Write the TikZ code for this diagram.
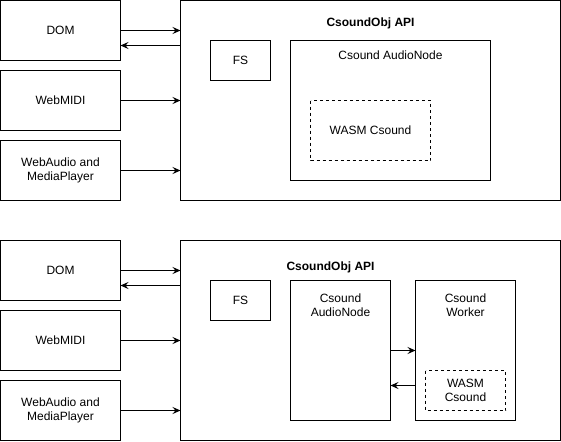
\documentclass[tikz,border=0pt]{standalone}
\usepackage{fontspec}
\setmainfont{Liberation Sans}
\usetikzlibrary{arrows.meta}
\begin{document}
\begin{tikzpicture}[x=1pt,y=-1pt,
  box/.style={draw=black,line width=1pt,fill=white},
  dbox/.style={draw=black,line width=1pt,dashed,dash pattern=on 3pt off 3pt},
  lbl/.style={font=\fontsize{12}{14}\selectfont,align=center},
  conn/.style={line width=1pt,-{Stealth[length=8pt,width=7pt,inset=3pt]}}]
\useasboundingbox (0,0) rectangle (561,441);
\fill[white] (0,0) rectangle (561,441);
% ---------- top diagram ----------
\draw[box] (0.5,0.5) rectangle (120.5,60.5);
\node[lbl] (dom1) at (60.5,30.5) {DOM};
\coordinate (dom1a) at (120.5,30.5);
\coordinate (dom1b) at (120.5,45.5);
\draw[box] (0.5,70.5) rectangle (120.5,130.5);
\node[lbl] (midi1) at (60.5,100.5) {WebMIDI};
\coordinate (midi1e) at (120.5,100.5);
\draw[box] (0.5,140.5) rectangle (120.5,200.5);
\node[lbl] (wa1) at (60.5,170.5) {WebAudio and\\MediaPlayer};
\coordinate (wa1e) at (120.5,170.5);
\draw[box] (180.5,0.5) rectangle (560.5,200.5);
\node[lbl,font=\fontsize{12}{14}\selectfont\bfseries] (api1) at (370.5,23.5) {CsoundObj API};
\coordinate (api1a) at (180.5,30.5);
\coordinate (api1b) at (180.5,45.5);
\coordinate (api1m) at (180.5,100.5);
\coordinate (api1w) at (180.5,170.5);
\draw[box] (210.5,40.5) rectangle (270.5,80.5);
\node[lbl] (fs1) at (240.5,60.5) {FS};
\draw[box] (290.5,40.5) rectangle (490.5,180.5);
\node[lbl] (an1) at (390.5,55) {Csound AudioNode};
\draw[dbox] (310.5,100.5) rectangle (430.5,160.5);
\node[lbl] (wasm1) at (370.5,130.5) {WASM Csound};
\draw[conn] (dom1a) -- (api1a);
\draw[conn] (api1b) -- (dom1b);
\draw[conn] (midi1e) -- (api1m);
\draw[conn] (wa1e) -- (api1w);
% ---------- bottom diagram ----------
\draw[box] (0.5,240.5) rectangle (120.5,300.5);
\node[lbl] (dom2) at (60.5,270.5) {DOM};
\coordinate (dom2a) at (120.5,270.5);
\coordinate (dom2b) at (120.5,285.5);
\draw[box] (0.5,310.5) rectangle (120.5,370.5);
\node[lbl] (midi2) at (60.5,340.5) {WebMIDI};
\coordinate (midi2e) at (120.5,340.5);
\draw[box] (0.5,380.5) rectangle (120.5,440.5);
\node[lbl] (wa2) at (60.5,410.5) {WebAudio and\\MediaPlayer};
\coordinate (wa2e) at (120.5,410.5);
\draw[box] (180.5,240.5) rectangle (560.5,440.5);
\node[lbl,font=\fontsize{12}{14}\selectfont\bfseries] (api2) at (330.5,267.5) {CsoundObj API};
\coordinate (api2a) at (180.5,270.5);
\coordinate (api2b) at (180.5,285.5);
\coordinate (api2m) at (180.5,340.5);
\coordinate (api2w) at (180.5,410.5);
\draw[box] (210.5,280.5) rectangle (270.5,320.5);
\node[lbl] (fs2) at (240.5,300.5) {FS};
\draw[box] (290.5,280.5) rectangle (390.5,420.5);
\node[lbl] (an2) at (340.5,305.5) {Csound\\AudioNode};
\draw[box] (415.5,280.5) rectangle (515.5,420.5);
\node[lbl] (wk2) at (465.5,305.5) {Csound\\Worker};
\draw[dbox] (425.5,370.5) rectangle (505.5,410.5);
\node[lbl] (wasm2) at (465.5,390.5) {WASM\\Csound};
\coordinate (an2a) at (390.5,350.5);
\coordinate (wk2a) at (415.5,350.5);
\coordinate (an2b) at (390.5,385.5);
\coordinate (wk2b) at (415.5,385.5);
\draw[conn] (dom2a) -- (api2a);
\draw[conn] (api2b) -- (dom2b);
\draw[conn] (midi2e) -- (api2m);
\draw[conn] (wa2e) -- (api2w);
\draw[conn] (an2a) -- (wk2a);
\draw[conn] (wk2b) -- (an2b);
\end{tikzpicture}
\end{document}
